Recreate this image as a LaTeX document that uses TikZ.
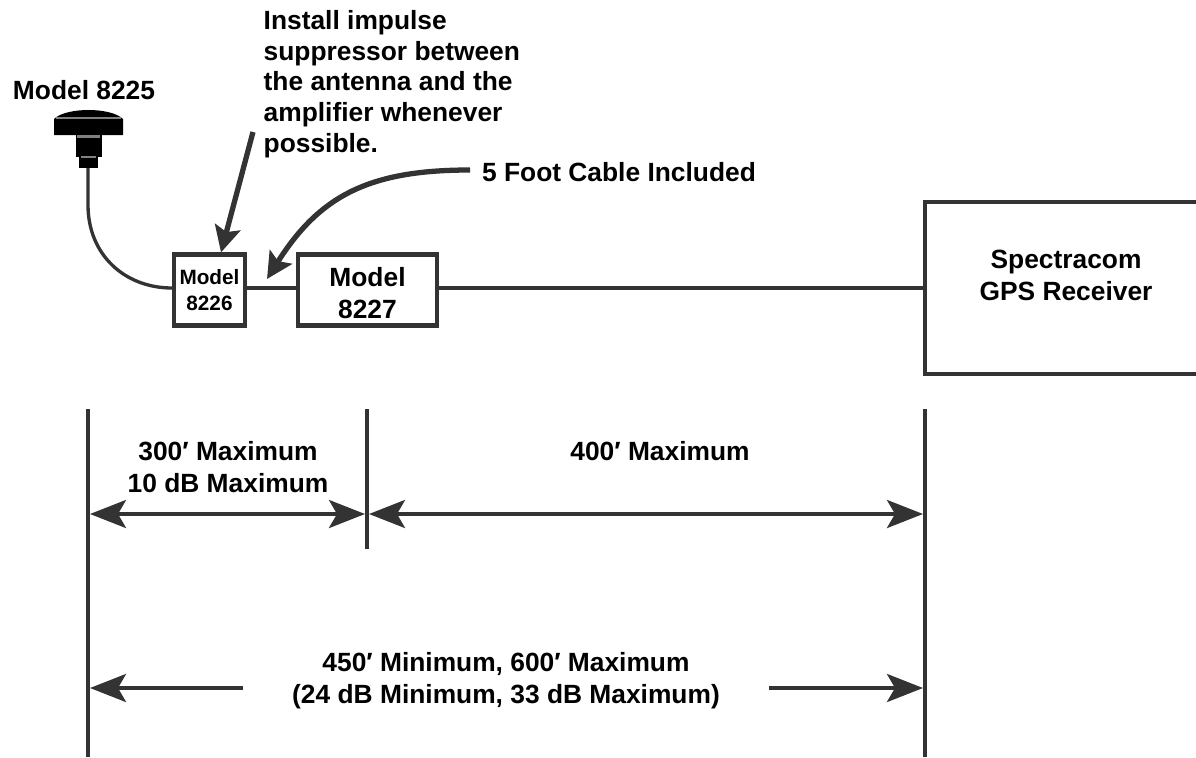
\documentclass[tikz,border=0pt]{standalone}
\usepackage{fontspec}
\setmainfont{Liberation Sans}
\usetikzlibrary{arrows.meta}
\definecolor{linegray}{HTML}{333333}
\tikzset{
    gps box/.style={draw=linegray, line width=2.4pt, fill=white, inner sep=0pt},
    gps cable/.style={draw=linegray, line width=1.9pt},
    gps lbl/.style={font=\bfseries\fontsize{15}{18.2}\selectfont, align=center, text=black},
    gps note/.style={font=\bfseries\fontsize{15}{17.5}\selectfont, text=black, align=left, anchor=north west},
    gps small/.style={font=\bfseries\fontsize{11.8}{14.5}\selectfont, align=center, text=black},
    gps call/.style={draw=linegray, line width=3pt,
                     -{Stealth[length=5.2mm, width=5.2mm, inset=1mm]}},
    gps dim/.style={draw=linegray, line width=2.2pt,
                    {Stealth[length=7.2mm, width=5.6mm, inset=1.6mm]}-{Stealth[length=7.2mm, width=5.6mm, inset=1.6mm]}},
    gps half/.style={draw=linegray, line width=2.2pt,
                    -{Stealth[length=7.2mm, width=5.6mm, inset=1.6mm]}},
    gps tick/.style={draw=linegray, line width=2pt},
}
\begin{document}
\begin{tikzpicture}[x=0.02cm, y=-0.02cm]
    \useasboundingbox (0, 0) rectangle (1196, 757);
    % Antenna
    \fill[black] (54, 119) .. controls (66, 107) and (111, 107) .. (123, 119)
        -- (123, 135) -- (54, 135) -- cycle;
    \fill[black] (76, 135) rectangle (102, 157);
    \fill[black] (79, 157) rectangle (98, 168);
    \draw[gray, line width=0.6pt] (56, 118) -- (121, 118);
    \draw[gray, line width=1.4pt] (77, 136.5) -- (100, 136.5);
    \draw[gray, line width=1.4pt] (81, 157) -- (96, 157);
    \coordinate (ant) at (88, 168);
    \node[gps lbl] (m8225) at (84, 90) {Model 8225};
    % Boxes
    \node[gps box, minimum width=1.42cm, minimum height=1.42cm, gps small]
        (m8226) at (209.5, 290) {Model\\8226};
    \node[gps box, minimum width=2.78cm, minimum height=1.42cm]
        (m8227) at (367.5, 290) {};
    \node[gps lbl] (m8227text) at (367.5, 293) {Model\\8227};
    % Receiver, cut off by the right edge
    \coordinate (rnw) at (1196, 202);
    \coordinate (rsw) at (1196, 374);
    \draw[gps box] (rnw) -- (925, 202) -- (925, 374) -- (rsw);
    \coordinate (rcv) at (925, 288);
    \node[gps lbl] (rcvtext) at (1066, 275) {Spectracom\\GPS Receiver};
    % Cables
    \draw[gps cable] (ant) -- (88, 205) .. controls (88, 255) and (125, 288) .. (m8226.west |- 0, 288);
    \draw[gps cable] (m8226.east |- 0, 288) -- (m8227.west |- 0, 288);
    \draw[gps cable] (m8227.east |- 0, 288) -- (rcv);
    % Callouts
    \node[gps note] (note) at (257.5, 4) {Install impulse\\suppressor between\\the antenna and the\\amplifier whenever\\possible.};
    \node[gps lbl] (cable) at (619, 172) {5 Foot Cable Included};
    \coordinate (nstart) at (253, 132);
    \coordinate (cstart) at (470, 170);
    \coordinate (ctgt) at (267, 279);
    \draw[gps call] (nstart) -- (m8226.north -| 221, 0);
    \draw[gps call] (cstart) .. controls (370, 170) and (320, 195) .. (ctgt);
    % Dimension lines
    \coordinate (la) at (88, 409);
    \coordinate (lb) at (88, 757);
    \coordinate (ma) at (367, 409);
    \coordinate (mb) at (367, 549);
    \coordinate (ra) at (925, 409);
    \coordinate (rb) at (925, 757);
    \draw[gps tick] (la) -- (lb);
    \draw[gps tick] (ma) -- (mb);
    \draw[gps tick] (ra) -- (rb);
    \coordinate (d1) at (90, 514);
    \coordinate (d2) at (365, 514);
    \coordinate (d3) at (369, 514);
    \coordinate (d4) at (923, 514);
    \draw[gps dim] (d1) -- (d2);
    \draw[gps dim] (d3) -- (d4);
    \coordinate (h1) at (243, 688);
    \coordinate (h2) at (90, 688);
    \coordinate (h3) at (769, 688);
    \coordinate (h4) at (923, 688);
    \draw[gps half] (h1) -- (h2);
    \draw[gps half] (h3) -- (h4);
    % Labels
    \node[gps lbl] (d300) at (228, 467) {300′ Maximum\\10 dB Maximum};
    \node[gps lbl] (d400) at (660, 451) {400′ Maximum};
    \node[gps lbl] (d450) at (506, 681) {450′ Minimum, 600′ Maximum\\(24 dB Minimum, 33 dB Maximum)};
\end{tikzpicture}
\end{document}
